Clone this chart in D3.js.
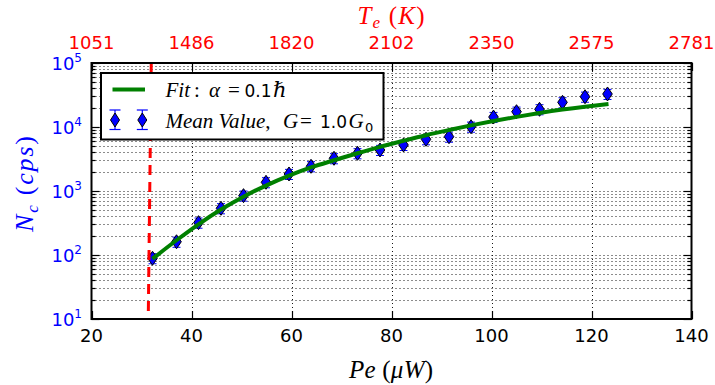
<!DOCTYPE html>
<html>
<head>
<meta charset="utf-8">
<script src="https://cdn.jsdelivr.net/npm/d3@7"></script>
<style>
  html, body { margin: 0; padding: 0; background: #fff; }
  svg { display: block; }
</style>
</head>
<body>
<script>
// ---------- data ----------
const peValues = [32.2, 37.0, 41.4, 45.9, 50.4, 54.9, 59.5, 63.9, 68.5, 73.2, 77.7, 82.4, 86.9, 91.5, 95.9, 100.4, 105.0, 109.6, 114.2, 118.7, 123.2];
const ncMean   = [89, 161, 320, 537, 846, 1368, 1845, 2433, 3245, 3883, 4375, 5236, 6427, 7050, 10110, 14320, 17340, 18910, 24300, 29720, 32810];
const ncErr    = [16, 29, 58, 97, 152, 246, 332, 438, 584, 699, 788, 942, 1157, 1269, 1820, 2578, 3121, 3404, 4374, 5350, 5906];
const fitPe    = [32.2, 37.0, 41.4, 45.9, 50.4, 54.9, 59.5, 63.9, 68.5, 73.2, 77.7, 82.4, 86.9, 91.5, 95.9, 100.4, 105.0, 109.6, 114.2, 118.7, 123.4];
const fitNc    = [87, 170, 302, 513, 813, 1216, 1738, 2333, 3020, 3890, 4898, 6095, 7447, 8954, 10590, 12390, 14390, 16520, 18710, 20800, 22910];
const thresholdPe = [31.95, 31.35];
const thresholdNc = [1e5, 1e1];
const xTicks = [20, 40, 60, 80, 100, 120, 140];
const topTickLabels = ["1051", "1486", "1820", "2102", "2350", "2575", "2781"];
const yMajorTicks = [1e1, 1e2, 1e3, 1e4, 1e5];
const yExponents = ["1", "2", "3", "4", "5"];

// ---------- setup ----------
const W = 715, H = 385;
const L = 91.5, R = 691.5, T = 63, B = 319;
const sans = "'DejaVu Sans', sans-serif";
const serif = "'Liberation Serif', 'DejaVu Serif', serif";

const svg = d3.select("body").append("svg").attr("width", W).attr("height", H);
const x = d3.scaleLinear().domain([20, 140]).range([L, R]);
const y = d3.scaleLog().domain([10, 1e5]).range([B, T]);

// minor log ticks
const yAllTicks = [];
for (let d = 1; d <= 4; d++) for (let m = 1; m <= 9; m++) yAllTicks.push(m * Math.pow(10, d));
yAllTicks.push(1e5);
const yMinorTicks = yAllTicks.filter(v => !yMajorTicks.includes(v));

// ---------- grid ----------
const grid = svg.append("g").attr("stroke", "#000").attr("stroke-width", 1)
  .attr("stroke-dasharray", "1,3").attr("opacity", 0.9);
grid.selectAll("line.h").data(yAllTicks.filter(v => v > 10 && v < 1e5)).enter().append("line")
  .attr("x1", L).attr("x2", R).attr("y1", d => Math.round(y(d)) + 0.5).attr("y2", d => Math.round(y(d)) + 0.5);
grid.selectAll("line.v").data(xTicks.filter(v => v > 20 && v < 140)).enter().append("line")
  .attr("y1", T).attr("y2", B).attr("x1", d => Math.round(x(d)) + 0.5).attr("x2", d => Math.round(x(d)) + 0.5);

// ---------- error bars and markers ----------
const pts = peValues.map((p, i) => ({ p, n: ncMean[i], e: ncErr[i] }));
const eb = svg.append("g").attr("stroke", "#0000ff").attr("stroke-width", 1);
pts.forEach(d => {
  eb.append("line").attr("x1", x(d.p)).attr("x2", x(d.p)).attr("y1", y(d.n - d.e)).attr("y2", y(d.n + d.e));
  eb.append("line").attr("x1", x(d.p) - 4).attr("x2", x(d.p) + 4).attr("y1", y(d.n - d.e)).attr("y2", y(d.n - d.e));
  eb.append("line").attr("x1", x(d.p) - 4).attr("x2", x(d.p) + 4).attr("y1", y(d.n + d.e)).attr("y2", y(d.n + d.e));
});
const diamond = (hw, hh) => `M0,${-hh}L${hw},0L0,${hh}L${-hw},0Z`;
svg.append("g").selectAll("path").data(pts).enter().append("path")
  .attr("d", diamond(4.8, 7))
  .attr("transform", d => `translate(${x(d.p)},${y(d.n)})`)
  .attr("fill", "#0000ff").attr("stroke", "#000").attr("stroke-width", 1);

// ---------- fit line ----------
const line = d3.line().x(d => x(d[0])).y(d => y(d[1])).curve(d3.curveMonotoneX);
svg.append("path").datum(fitPe.map((p, i) => [p, fitNc[i]]))
  .attr("d", line).attr("fill", "none").attr("stroke", "#008000").attr("stroke-width", 4);

// ---------- threshold line ----------
svg.append("line")
  .attr("x1", x(thresholdPe[0])).attr("y1", y(thresholdNc[0]))
  .attr("x2", x(thresholdPe[1])).attr("y2", y(thresholdNc[1]))
  .attr("stroke", "#ff0000").attr("stroke-width", 3).attr("stroke-dasharray", "10,7");

// ---------- frame and ticks ----------
const ticks = svg.append("g").attr("stroke", "#000").attr("stroke-width", 1.2);
xTicks.forEach(v => {
  const px = Math.round(x(v)) + 0.5;
  ticks.append("line").attr("x1", px).attr("x2", px).attr("y1", B).attr("y2", B - 8);
  ticks.append("line").attr("x1", px).attr("x2", px).attr("y1", T).attr("y2", T + 8);
});
yMajorTicks.forEach(v => {
  const py = Math.round(y(v)) + 0.5;
  ticks.append("line").attr("x1", L).attr("x2", L + 8).attr("y1", py).attr("y2", py);
  ticks.append("line").attr("x1", R).attr("x2", R - 8).attr("y1", py).attr("y2", py);
});
yMinorTicks.forEach(v => {
  const py = Math.round(y(v)) + 0.5;
  ticks.append("line").attr("x1", L).attr("x2", L + 4).attr("y1", py).attr("y2", py);
  ticks.append("line").attr("x1", R).attr("x2", R - 4).attr("y1", py).attr("y2", py);
});
svg.append("rect").attr("x", L).attr("y", T).attr("width", R - L).attr("height", B - T)
  .attr("fill", "none").attr("stroke", "#000").attr("stroke-width", 2);

// ---------- tick labels ----------
svg.append("g").selectAll("text").data(xTicks).enter().append("text")
  .attr("x", d => x(d)).attr("y", 341.5).attr("text-anchor", "middle")
  .attr("font-family", sans).attr("font-size", 18).attr("fill", "#000").text(d => d);
svg.append("g").selectAll("text").data(xTicks).enter().append("text")
  .attr("x", d => x(d)).attr("y", 48.5).attr("text-anchor", "middle")
  .attr("font-family", sans).attr("font-size", 18).attr("fill", "#ff0000")
  .text((d, i) => topTickLabels[i]);
yMajorTicks.forEach((v, i) => {
  const t = svg.append("text").attr("x", 82).attr("y", y(v) + 6.5).attr("text-anchor", "end")
    .attr("font-family", sans).attr("fill", "#0000ff").attr("font-size", 18);
  t.append("tspan").text("10");
  t.append("tspan").attr("font-size", 12).attr("dy", -7.5).text(yExponents[i]);
});

// ---------- rich text helper ----------
function rich(parent, xx, yy, parts, opts) {
  const t = parent.append("text").attr("x", xx).attr("y", yy)
    .attr("fill", opts.fill || "#000").attr("font-size", opts.size)
    .attr("text-anchor", opts.anchor || "start");
  if (opts.transform) t.attr("transform", opts.transform);
  if (opts.len) t.attr("textLength", opts.len).attr("lengthAdjust", "spacing");
  parts.forEach(p => {
    const s = t.append("tspan").text(p.t)
      .attr("font-family", p.sans ? sans : serif)
      .attr("font-style", p.it ? "italic" : "normal");
    if (p.size) s.attr("font-size", p.size);
    if (p.dy) s.attr("dy", p.dy);
    if (p.x !== undefined) s.attr("x", p.x);
  });
  t.style("white-space", "pre");
  return t;
}

// axis labels
rich(svg, 391, 378, [
  { t: "Pe", it: true }, { t: " (" }, { t: "μW", it: true }, { t: ")" }
], { size: 25, anchor: "middle", len: 84 });
rich(svg, 391, 23.5, [
  { t: "T", it: true }, { t: "e", it: true, size: 17, dy: 4 }, { t: " (", dy: -4 }, { t: "K", it: true }, { t: ")" }
], { size: 25, anchor: "middle", fill: "#ff0000", len: 67 });
rich(svg, 0, 0, [
  { t: "N", it: true }, { t: "c", it: true, size: 17, dy: 5 }, { t: " (", dy: -5 }, { t: "cps", it: true }, { t: ")" }
], { size: 26, anchor: "middle", fill: "#0000ff", transform: "translate(33,184) rotate(-90)", len: 96 });

// ---------- legend ----------
const lg = svg.append("g");
lg.append("rect").attr("x", 101).attr("y", 73).attr("width", 282.5).attr("height", 66.5)
  .attr("fill", "#fff").attr("stroke", "#000").attr("stroke-width", 2);
lg.append("line").attr("x1", 112.5).attr("x2", 145).attr("y1", 89.5).attr("y2", 89.5)
  .attr("stroke", "#008000").attr("stroke-width", 4);
[115, 142.3].forEach(cx => {
  lg.append("line").attr("x1", cx).attr("x2", cx).attr("y1", 110).attr("y2", 129.5).attr("stroke", "#0000ff").attr("stroke-width", 1.2);
  lg.append("line").attr("x1", cx - 5.5).attr("x2", cx + 5.5).attr("y1", 110).attr("y2", 110).attr("stroke", "#0000ff").attr("stroke-width", 1.2);
  lg.append("line").attr("x1", cx - 5.5).attr("x2", cx + 5.5).attr("y1", 129.5).attr("y2", 129.5).attr("stroke", "#0000ff").attr("stroke-width", 1.2);
  lg.append("path").attr("d", diamond(4.5, 7)).attr("transform", `translate(${cx},120)`)
    .attr("fill", "#0000ff").attr("stroke", "#000").attr("stroke-width", 1);
});
rich(lg, 165.5, 96.5, [
  { t: "Fit", it: true }, { t: ":", x: 194 }, { t: "α", it: true, x: 209 }, { t: "=", x: 228 },
  { t: "0.1", sans: true, size: 17, x: 244.5 }, { t: "ℏ", it: true, x: 273 }
], { size: 21 });
rich(lg, 165.5, 128.3, [
  { t: "Mean Value", it: true }, { t: "," }, { t: "G", it: true, x: 283 }, { t: "=", x: 300 },
  { t: "1.0", sans: true, size: 17, x: 320 }, { t: "G", it: true, x: 348.5 }, { t: "0", size: 13, dy: 4, sans: true, x: 365 }
], { size: 21 });
</script>
</body>
</html>
